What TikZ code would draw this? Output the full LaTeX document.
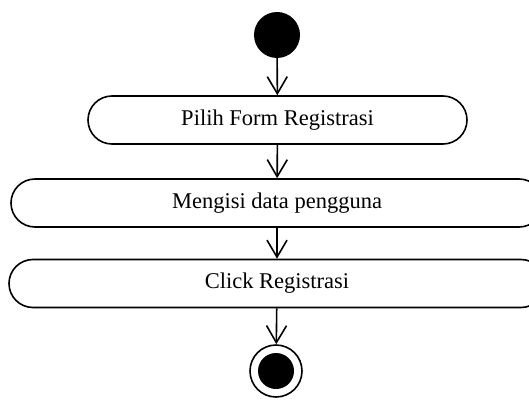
\documentclass[tikz,border=0pt]{standalone}
\usepackage{fontspec}
\setmainfont{Liberation Serif}
\usepackage{tikz}
\usetikzlibrary{arrows.meta}

\tikzset{
	activity/.style={draw, line width=1.6pt, rounded corners=24pt, minimum height=48pt, inner sep=0pt, font=\fontsize{22.5}{25}\selectfont},
	flow/.style={line width=1.6pt, -{Straight Barb[length=17pt, width=20pt, line width=1.6pt]}}
}

\begin{document}
\begin{tikzpicture}[x=1pt, y=-1pt]
		\useasboundingbox (0,0) rectangle (529,401);
		\node [circle, fill, minimum size=46pt, inner sep=0pt] (start) at (277,35) {};
		\node [activity, minimum width=379pt] (pilih) at (277.5,120) {Pilih Form Registrasi};
		\node [activity, minimum width=532pt] (isi) at (277,203) {Mengisi data pengguna};
		\node [activity, minimum width=536pt] (click) at (277,283.5) {Click Registrasi};
		\node [circle, draw, line width=1.6pt, minimum size=52pt, inner sep=0pt] (end) at (276,371) {};
		\node [circle, fill, minimum size=36pt, inner sep=0pt] (endin) at (end) {};
		\draw [flow] (start) -- (pilih);
		\draw [flow] (pilih) -- (isi);
		\draw [flow] (isi) -- (click);
		\draw [flow] (click) -- (end);
	\end{tikzpicture}
\end{document}
